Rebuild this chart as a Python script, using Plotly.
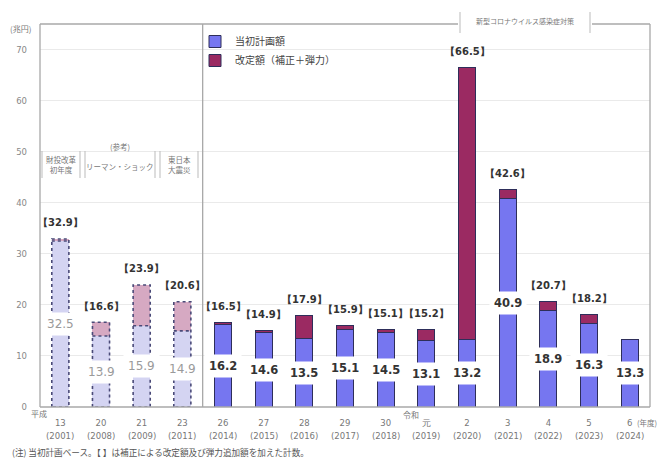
import plotly.graph_objects as go

# ---- data ----
era_labels = ["13", "20", "21", "23", "26", "27", "28", "29", "30", "元", "2", "3", "4", "5", "6"]
year_labels = ["2001", "2008", "2009", "2011", "2014", "2015", "2016", "2017", "2018", "2019",
               "2020", "2021", "2022", "2023", "2024"]
initial_plan = [32.5, 13.9, 15.9, 14.9, 16.2, 14.6, 13.5, 15.1, 14.5, 13.1, 13.2, 40.9, 18.9, 16.3, 13.3]
revised_total = [32.9, 16.6, 23.9, 20.6, 16.5, 14.9, 17.9, 15.9, 15.1, 15.2, 66.5, 42.6, 20.7, 18.2, None]
reference_count = 4  # first four years shown as reference (light bars)

series_names = ["当初計画額", "改定額（補正＋弾力）"]

BLUE = "#7676F0"
MAROON = "#9B2A62"
LIGHT_BLUE = "#D4D4F2"
LIGHT_MAROON = "#D6A9C2"
EDGE = "#2E2E5A"
JP = "Noto Sans CJK JP"
NUM = "DejaVu Sans"
BW = 0.42

x = list(range(len(era_labels)))
supp = [None if t is None else round(t - i, 1) for i, t in zip(initial_plan, revised_total)]

ref_x = x[:reference_count]
main_x = x[reference_count:]

fig = go.Figure()
fig.add_trace(go.Bar(x=ref_x, y=initial_plan[:reference_count], width=BW, showlegend=False,
                     marker=dict(color=LIGHT_BLUE, line=dict(width=0)), hoverinfo="skip"))
fig.add_trace(go.Bar(x=main_x, y=initial_plan[reference_count:], width=BW, name=series_names[0],
                     marker=dict(color=BLUE, line=dict(color=EDGE, width=1))))
fig.add_trace(go.Bar(x=ref_x, y=supp[:reference_count], width=BW, showlegend=False,
                     marker=dict(color=LIGHT_MAROON, line=dict(width=0)), hoverinfo="skip"))
fig.add_trace(go.Bar(x=main_x, y=supp[reference_count:], width=BW, name=series_names[1],
                     marker=dict(color=MAROON, line=dict(color=EDGE, width=1))))

# dotted outlines for reference bars
ox, oy = [], []
for i in ref_x:
    l, r = i - BW / 2, i + BW / 2
    t, m = revised_total[i], initial_plan[i]
    ox += [l, l, r, r, l, None, l, r, None]
    oy += [0, t, t, 0, 0, None, m, m, None]
fig.add_trace(go.Scatter(x=ox, y=oy, mode="lines", showlegend=False, hoverinfo="skip",
                         line=dict(color="#4A4A78", width=1.6, dash="dot")))

# page body has an 8px margin in the browser: design in screen pixels, shift by OFF
OFF = 8
SW, SH = 667, 459
W, H = SW - OFF, SH - OFF
PL, PR, PT, PB = 40, 650, 24, 407  # plot area in screen pixels
L, T = PL - OFF, PT - OFF
R, B = W - (PR - OFF), H - (PB - OFF)
pw, ph = PR - PL, PB - PT


def px2paper(px, py):
    return (px - PL) / pw, 1 - (py - PT) / ph


annotations = []
for i in x:
    ref = i < reference_count
    annotations.append(dict(
        x=i, y=initial_plan[i] / 2, xref="x", yref="y", showarrow=False,
        xanchor="center", yanchor="middle",
        text=(f"{initial_plan[i]}" if ref else f"<b>{initial_plan[i]}</b>"),
        font=dict(family=NUM, size=12 if ref else 11.5, color="#9A9A9A" if ref else "#333333"),
        bgcolor="white", borderpad=4))
    if revised_total[i] is not None:
        annotations.append(dict(
            x=i, y=revised_total[i], xref="x", yref="y", showarrow=False, yshift=16,
            xanchor="center", yanchor="middle",
            text=f"<b>【{revised_total[i]}】</b>",
            font=dict(family=NUM, size=10, color="#333333")))
    # fiscal-year row under the era tick labels
    annotations.append(dict(
        x=i, y=px2paper(0, 436)[1], xref="x", yref="paper", showarrow=False,
        xanchor="center", yanchor="middle",
        text=f"({year_labels[i]})", font=dict(family=NUM, size=8.5, color="#777777")))

# static texts placed by screen pixel position
static = [
    dict(x=20, y=28, text="(兆円)", size=8),
    dict(x=39, y=413, text="平成", size=8),
    dict(x=411, y=414, text="令和", size=8),
    dict(x=647, y=422, text="(年度)", size=7.5),
    dict(x=10, y=452, text="(注) 当初計画ベース。【 】は補正による改定額及び弾力追加額を加えた計数。", size=8.6,
         color="#555555", anchor="left"),
    dict(x=61, y=164, text="財投改革<br>初年度", size=7.5),
    dict(x=120, y=146, text="(参考)", size=7.5),
    dict(x=120, y=166, text="リーマン・ショック", size=7.5),
    dict(x=179, y=164, text="東日本<br>大震災", size=7.5),
    dict(x=525, y=21, text="新型コロナウイルス感染症対策", size=7),
]
for s in static:
    ax, ay = px2paper(s["x"], s["y"])
    annotations.append(dict(x=ax, y=ay, xref="paper", yref="paper", text=s["text"], showarrow=False,
                            xanchor=s.get("anchor", "center"), yanchor="middle",
                            font=dict(family=JP, size=s["size"], color=s.get("color", "#777777"))))

# frame and brackets
GRAY = "#A8A8A8"
shapes = []


def pline(x0, y0, x1, y1, color=GRAY, width=1.3):
    a0, b0 = px2paper(x0, y0)
    a1, b1 = px2paper(x1, y1)
    shapes.append(dict(type="line", xref="paper", yref="paper", x0=a0, y0=b0, x1=a1, y1=b1,
                       line=dict(color=color, width=width), layer="above"))


pline(40, 24, 40, 407)
pline(40, 407, 650, 407)
pline(650, 24, 650, 407)
pline(40, 24, 458, 24)
pline(592, 24, 650, 24)
for bx in [460, 590]:
    pline(bx, 12, bx, 33, color="#BBBBBB", width=1)
for bx in [42, 80, 85, 155, 160, 198]:
    pline(bx, 151, bx, 178, color="#BBBBBB", width=1)
shapes.append(dict(type="line", xref="x", yref="paper", x0=3.5, x1=3.5, y0=0, y1=1,
                   line=dict(color=GRAY, width=1.3), layer="above"))

lx, ly = px2paper(195, 27)
fig.update_layout(
    width=W, height=H, margin=dict(l=L, r=R, t=T, b=B, pad=0, autoexpand=False),
    barmode="stack", plot_bgcolor="white", paper_bgcolor="white",
    font=dict(family=JP, color="#555555"),
    showlegend=True,
    legend=dict(x=lx, y=ly, xanchor="left", yanchor="top", traceorder="normal",
                bgcolor="rgba(0,0,0,0)", font=dict(family=JP, size=10, color="#444444"),
                itemwidth=30, tracegroupgap=4),
    xaxis=dict(range=[-0.5, len(x) - 0.5], tickvals=x, ticktext=era_labels, showgrid=False,
               tickfont=dict(family=NUM, size=8.5, color="#777777"), ticks="", zeroline=False,
               automargin=False, ticklabelstandoff=9),
    yaxis=dict(range=[0, 75], tickvals=[0, 10, 20, 30, 40, 50, 60, 70], showgrid=True,
               gridcolor="#EAEAEA", gridwidth=1, zeroline=False, ticks="", automargin=False,
               tickfont=dict(family=NUM, size=8.5, color="#888888"), ticklabelstandoff=12),
    annotations=annotations, shapes=shapes, bargap=0.5,
)

fig.write_html("out.html")
